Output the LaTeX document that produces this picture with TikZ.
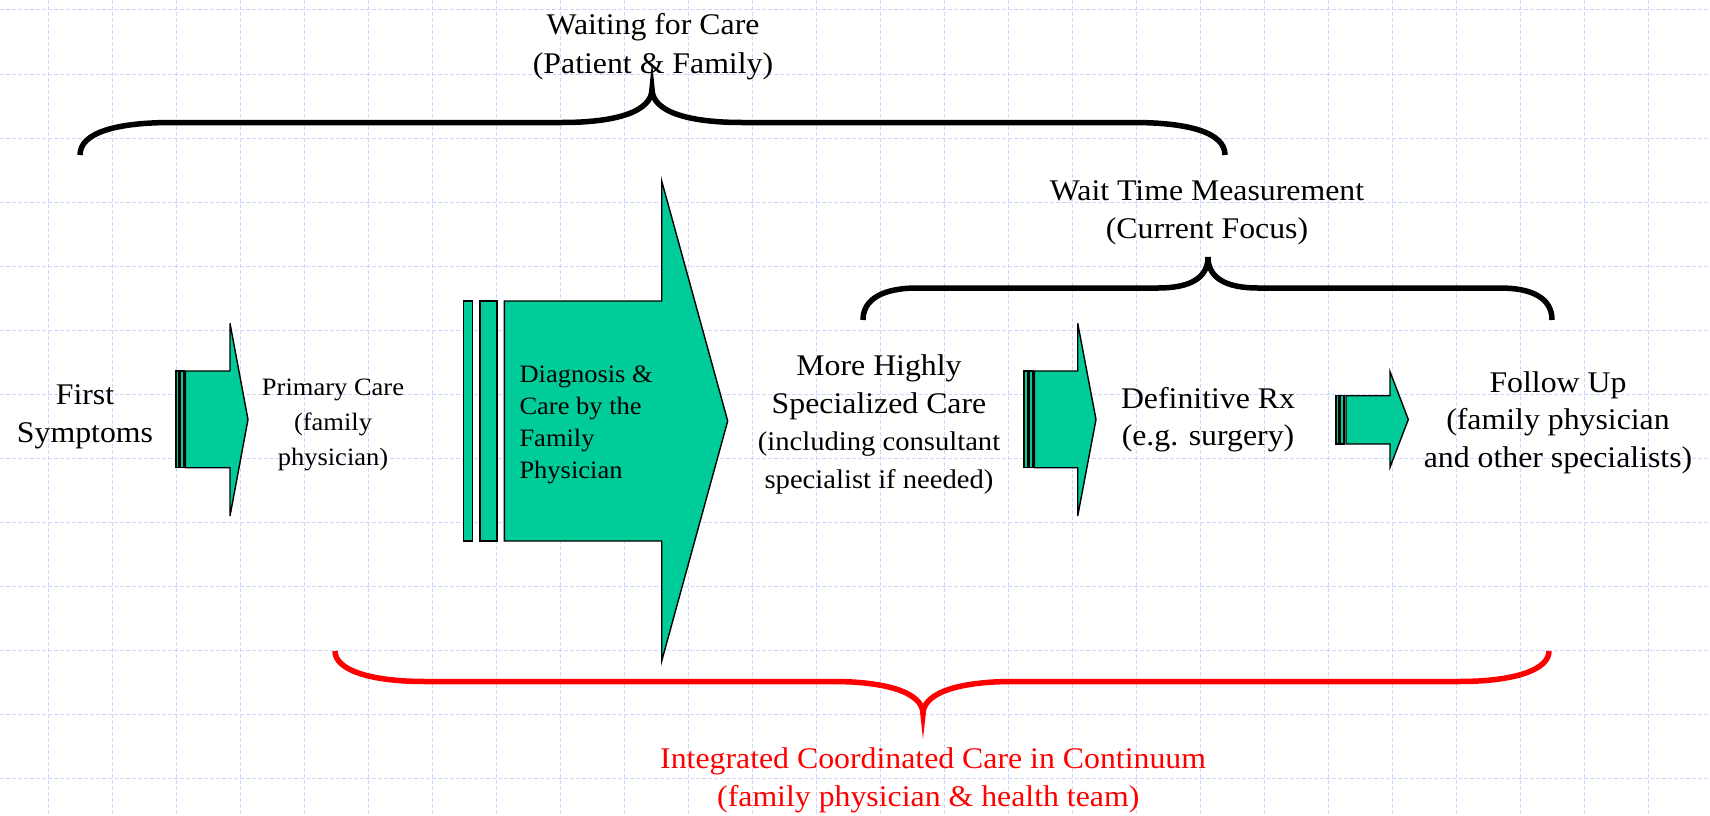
\documentclass[tikz,border=0pt]{standalone}
\usepackage{fontspec}
\setmainfont{Liberation Serif}[FakeStretch=1.06]
\definecolor{gridblue}{RGB}{204,214,255}
\definecolor{teal}{RGB}{0,204,153}
\definecolor{bracered}{RGB}{255,0,0}
\tikzset{
  gridline/.style={draw=gridblue, line width=1pt, dash pattern=on 4pt off 2pt},
  arrowshape/.style={draw=black, fill=teal, line width=1.4pt, line join=miter},
  bracepath/.style={line width=5.5pt, line cap=butt},
  lbl/.style={align=center, inner sep=0pt, anchor=base, font=\fontsize{30}{37.4}\selectfont},
}
\newcommand{\smallpt}{\fontsize{27}{37.4}\selectfont}
\begin{document}
\begin{tikzpicture}[x=1pt,y=-1pt]
\useasboundingbox (0,0) rectangle (1710,816);
\fill[white] (0,0) rectangle (1710,816);
% grid
\foreach \x in {48,112,...,1712} \draw[gridline] (\x,0) -- (\x,816);
\foreach \y in {10,74,...,778} \draw[gridline] (0,\y) -- (1710,\y);

% arrow 1
\draw[arrowshape] (176,371) rectangle (179,467.7);
\draw[arrowshape] (180.5,371) rectangle (184,467.7);
\draw[arrowshape] (185.5,371) -- (230,371) -- (230,323.3) -- (248,419.5) -- (230,516) -- (230,467.7) -- (185.5,467.7) -- cycle;

% big arrow
\draw[arrowshape] (463.3,301) rectangle (472.3,541);
\draw[arrowshape] (480,301) rectangle (497,541);
\draw[arrowshape] (504.3,301) -- (661.7,301) -- (661.7,181) -- (727.7,421) -- (661.7,661) -- (661.7,541) -- (504.3,541) -- cycle;

% arrow 3
\draw[arrowshape] (1024,371) rectangle (1027.5,467.7);
\draw[arrowshape] (1029,371) rectangle (1033,467.7);
\draw[arrowshape] (1034.5,371) -- (1077.7,371) -- (1077.7,323.3) -- (1096,419.5) -- (1077.7,516) -- (1077.7,467.7) -- (1034.5,467.7) -- cycle;

% arrow 4
\draw[arrowshape] (1336,395.7) rectangle (1339,444);
\draw[arrowshape] (1340.5,395.7) rectangle (1344,444);
\draw[arrowshape] (1346,395.7) -- (1390,395.7) -- (1390,371.7) -- (1408.3,419.5) -- (1390,467.3) -- (1390,444) -- (1346,444) -- cycle;

% top brace
\draw[bracepath] (80,155) .. controls (80,133) and (115,122.5) .. (172,122.5)
  -- (562,122.5) .. controls (615,122.5) and (652,112) .. (652,89)
  .. controls (652,112) and (689,122.5) .. (742,122.5)
  -- (1133,122.5) .. controls (1190,122.5) and (1225,133) .. (1225,155);

% wait time brace
\draw[bracepath] (863,320) .. controls (863,298) and (885,288) .. (917,288)
  -- (1158,288) .. controls (1190,288) and (1208,278) .. (1208,257)
  .. controls (1208,278) and (1226,288) .. (1258,288)
  -- (1500,288) .. controls (1532,288) and (1552,298) .. (1552,320);

% red brace
\draw[bracepath, bracered] (335,651) .. controls (335,670) and (370,681.5) .. (425,681.5)
  -- (833,681.5) .. controls (885,681.5) and (923,692) .. (923,714)
  .. controls (923,692) and (961,681.5) .. (1013,681.5)
  -- (1459,681.5) .. controls (1514,681.5) and (1549,670) .. (1549,651);

% labels (anchored at the baseline of the last line)
\node[lbl, font=\fontsize{30}{39}\selectfont] (waiting) at (653,74) {Waiting for Care\\(Patient \& Family)};
\node[lbl, font=\fontsize{30}{38}\selectfont] (wtm) at (1207,238) {Wait Time Measurement\\(Current Focus)};

\node[lbl] (first) at (85,442) {First\\Symptoms};
\node[lbl, font=\fontsize{25}{35}\selectfont] (primary) at (333,465.5) {Primary Care\\(family\\physician)};
\node[align=left, inner sep=0pt, anchor=base west, font=\fontsize{25}{31.9}\selectfont] (diag) at (519.3,478.3) {Diagnosis \&\\Care by the\\Family\\Physician};
\node[lbl] (special) at (879,488) {More Highly\\Specialized Care\\\smallpt (including consultant\\\smallpt specialist if needed)};
\node[lbl] (defin) at (1208,445.5) {Definitive Rx\\(e.g. surgery)};
\node[lbl] (follow) at (1558,467.3) {Follow Up\\(family physician\\and other specialists)};

\node[lbl, text=bracered, anchor=base west] (int1) at (660,768) {Integrated Coordinated Care in Continuum};
\node[lbl, text=bracered, anchor=base west] (int2) at (717,806.7) {(family physician \& health team)};
\end{tikzpicture}
\end{document}
